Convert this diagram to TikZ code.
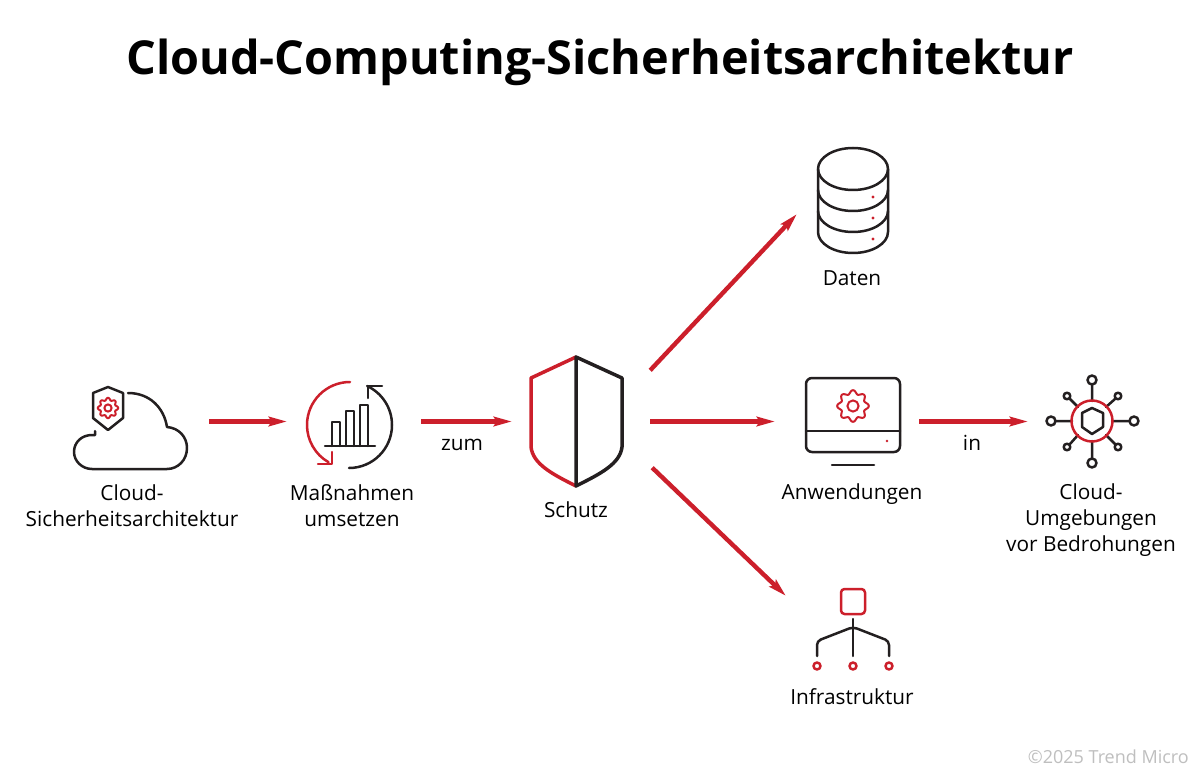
\documentclass[tikz,border=0pt]{standalone}
\usepackage{fontspec}
\setmainfont{Open Sans}
\usetikzlibrary{arrows.meta,positioning}
\definecolor{tmred}{HTML}{CC1F2B}
\definecolor{tmdark}{HTML}{231F20}
\tikzset{
    %Define standard arrow tip
    >={Stealth[length=18pt,width=9.5pt,inset=3pt]},
    %Define style for the text below the icons
    beschriftung/.style={
           anchor=base,
           inner sep=0pt,
           align=center,
           text=black,
           font=\fontsize{20.8}{26}\selectfont},
    % Empty box round an icon, connectors end on its border
    iconbox/.style={
           rectangle,
           inner sep=0pt,
           minimum width=#1},
    linie/.style={draw=tmdark, line width=2.5pt, line join=round, line cap=round},
    rotlinie/.style={draw=tmred, line width=2.5pt, line join=round, line cap=round},
    % Define arrow style
    pfeil/.style={
           ->,
           draw=tmred,
           line width=4.4pt},
    gear/.pic={
           \draw[rotlinie, line width=2pt] plot[domain=0:360,samples=97,smooth]
               (\x:{#1*(1+.13*cos(8*\x))}) -- cycle;
           \draw[rotlinie, line width=2pt] (0,0) circle[radius=.4*#1];
           }
}

\begin{document}
\begin{tikzpicture}[x=1pt,y=-1pt]
\useasboundingbox[fill=white] (0,0) rectangle (1200,778);
\node[anchor=base,inner sep=0pt,font=\fontsize{46.8}{50}\selectfont\bfseries](titel) at (600,74.5){Cloud-Computing-Sicherheitsarchitektur};

% boxes round the icons
\node[iconbox=158, minimum height=90](cloud) at (130,421.5){};
\node[iconbox=134, minimum height=90](massnahmen) at (354,421.5){};
\node[iconbox=138, minimum height=102](schutz) at (581,421.5){};
\node[iconbox=112, minimum height=70](daten) at (853,179){};
\node[iconbox=144, minimum height=90](anwendungen) at (847,421.5){};
\node[iconbox=128, minimum height=90](umgebungen) at (1092,421.5){};
\node[iconbox=134, minimum height=80](infrastruktur) at (853,636){};

% cloud
\draw[linie] (128,393) .. controls (150,393) and (164,408) .. (167,427)
   .. controls (179,428) and (187,437) .. (187,448)
   .. controls (187,460) and (178,469) .. (167,469) -- (92,469)
   .. controls (82,469) and (74,461) .. (74,452)
   .. controls (74,442) and (82,435) .. (92,435) -- (95,435) -- (95,431);
\draw[linie] (108,387) -- (123,393) -- (123,418) -- (108,430) -- (93,418) -- (93,393) -- cycle;
\pic at (108,408) {gear=9};

% massnahmen
\draw[rotlinie] (350,382) arc[start angle=90,end angle=240,radius=43pt];
\draw[rotlinie] (318,464) -- (332,464) -- (332,452);
\draw[linie] (349,468) arc[start angle=-90,end angle=65,radius=43pt];
\draw[linie] (382,386) -- (368,386) -- (368,398);
\draw[linie] (325,446) -- (375,446);
\draw[linie] (332,446) -- (332,422) -- (340,422) -- (340,446);
\draw[linie] (346,446) -- (346,411) -- (354,411) -- (354,446);
\draw[linie] (360,446) -- (360,405) -- (368,405) -- (368,446);

% schutz
\draw[rotlinie, line width=3.5pt] (576,357) -- (531,378) -- (531,447)
   .. controls (533,464) and (552,474) .. (576,486);
\draw[linie, line width=3.5pt] (576,357) -- (622,378) -- (622,447)
   .. controls (620,464) and (600,474) .. (576,486) -- cycle;

% daten
\draw[linie] (853,169) ellipse[x radius=35pt,y radius=21pt];
\draw[linie] (818,169) -- (818,232) arc[start angle=180,end angle=360,x radius=35pt,y radius=21pt] -- (888,169);
\draw[linie] (818,190) arc[start angle=180,end angle=360,x radius=35pt,y radius=21pt];
\draw[linie] (818,211) arc[start angle=180,end angle=360,x radius=35pt,y radius=21pt];
\fill[tmred] (873,197) circle[radius=1.6] (873,218) circle[radius=1.6] (873,239) circle[radius=1.6];

% anwendungen
\draw[linie, rounded corners=6pt] (806,378) rectangle (900,452);
\draw[linie] (806,431) -- (900,431);
\draw[linie] (832,465) -- (874,465);
\fill[tmred] (887,441) circle[radius=1.4];
\pic at (853,406) {gear=14};

% umgebungen
\draw[linie] (1092,401) -- (1092,385) (1092,441) -- (1092,458)
   (1072,421) -- (1056,421) (1112,421) -- (1129,421)
   (1078,407) -- (1070,399) (1106,407) -- (1115,399)
   (1078,435) -- (1070,444) (1106,435) -- (1115,444);
\draw[linie] (1092,380) circle[radius=4.5] (1092,463) circle[radius=4.5]
   (1051,421) circle[radius=4.5] (1134,421) circle[radius=4.5]
   (1067,396) circle[radius=3.3] (1118,396) circle[radius=3.3]
   (1067,447) circle[radius=3.3] (1118,447) circle[radius=3.3];
\draw[rotlinie] (1092,421) circle[radius=20.5];
\draw[linie] (1092,408) -- (1103,413) -- (1103,427) -- (1092,434) -- (1082,427) -- (1082,413) -- cycle;

% infrastruktur
\draw[rotlinie, rounded corners=3.5pt] (841,589) rectangle (865,614);
\draw[linie] (853,619) -- (853,656);
\draw[linie, rounded corners=4pt] (817,656) -- (817,641) -- (853,627) -- (889,641) -- (889,656);
\draw[rotlinie] (817,666) circle[radius=3.5] (853,666) circle[radius=3.5] (889,666) circle[radius=3.5];

% text
\node[beschriftung](cloudtext) at (132,526){Cloud-\\Sicherheitsarchitektur};
\node[beschriftung](massnahmentext) at (352,526){Maßnahmen\\umsetzen};
\node[beschriftung](zum) at (462,450){zum};
\node[beschriftung](schutztext) at (576,517){Schutz};
\node[beschriftung](datentext) at (852,286){Daten};
\node[beschriftung](anwendungentext) at (852,499){Anwendungen};
\node[beschriftung](in) at (972,450){in};
\node[beschriftung](umgebungentext) at (1091,551){Cloud-\\Umgebungen\\vor Bedrohungen};
\node[beschriftung](infratext) at (852,704){Infrastruktur};
\node[anchor=base east,inner sep=0pt,text=black!25,font=\fontsize{18}{20}\selectfont](copyright) at (1189,763){©2025 Trend Micro};

\path (cloud.east) edge[pfeil] (massnahmen.west)
   (massnahmen.east) edge[pfeil] (schutz.west)
   (schutz.east) edge[pfeil] (anwendungen.west)
   (anwendungen.east) edge[pfeil] (umgebungen.west)
   (schutz.north east) edge[pfeil] (daten.south west)
   ([shift={(2,-5)}]schutz.south east) edge[pfeil] (infrastruktur.north west);
\end{tikzpicture}
\end{document}
